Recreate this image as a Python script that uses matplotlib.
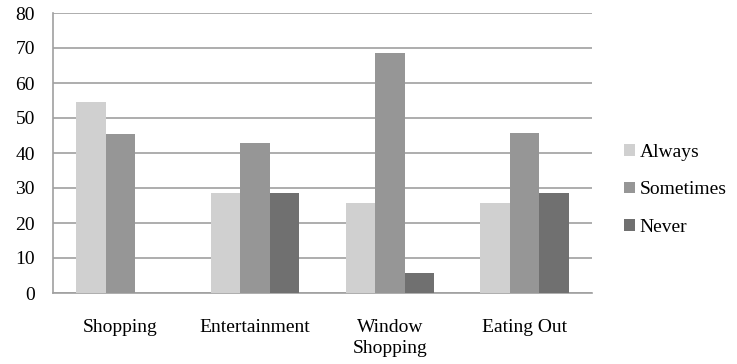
import matplotlib
matplotlib.use("Agg")
import matplotlib.pyplot as plt
import numpy as np

categories = ["Shopping", "Entertainment", "Window\nShopping", "Eating Out"]
series_names = ["Always", "Sometimes", "Never"]
always = [54.5, 28.6, 25.7, 25.7]
sometimes = [45.5, 42.9, 68.6, 45.7]
never = [0.0, 28.6, 5.7, 28.6]
colors = ["#d0d0d0", "#969696", "#707070"]

plt.rcParams['font.family'] = ['Liberation Serif', 'DejaVu Serif']

fig = plt.figure(figsize=(7.37, 3.64), dpi=100)
ax = fig.add_axes([53/737, 1-293/364, (592-53)/737, 280/364])

x = np.arange(len(categories))
w = 0.219
for i, (vals, name, c) in enumerate(zip([always, sometimes, never], series_names, colors)):
    ax.bar(x + (i-1)*w, vals, width=w, color=c, label=name, zorder=3)

ax.set_xlim(-0.5, len(categories)-0.5)
ax.set_ylim(0, 80)
ax.set_yticks(range(0, 81, 10))
ax.yaxis.grid(True, color="#a0a0a0", linewidth=1.2, zorder=0)
ax.set_axisbelow(True)
for s in ["top", "right"]:
    ax.spines[s].set_visible(False)
for s in ["left", "bottom"]:
    ax.spines[s].set_color("#a0a0a0")
    ax.spines[s].set_linewidth(1.2)
ax.set_xticks(x)
ax.set_xticklabels(categories, fontsize=14, linespacing=1.25)
ax.tick_params(axis='x', length=0, pad=19)
ax.tick_params(axis='y', length=0, pad=13, labelsize=14)

leg = fig.legend(loc="center left", bbox_to_anchor=(624/737, 1-190/364), frameon=False,
                 fontsize=14, handlelength=0.55, handleheight=0.55, handletextpad=0.25,
                 labelspacing=1.05, borderpad=0, borderaxespad=0)

fig.savefig("out.png", dpi=100)
